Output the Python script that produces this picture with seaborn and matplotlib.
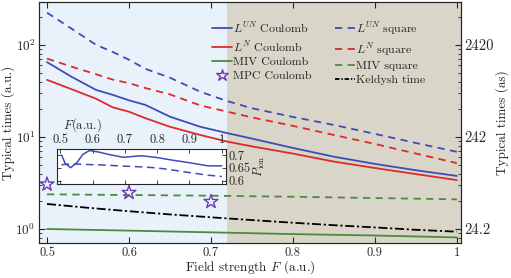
import seaborn as sns
import matplotlib.pyplot as plt
import matplotlib
from matplotlib.ticker import FixedLocator, FixedFormatter, NullFormatter
from matplotlib.lines import Line2D

# field strength grid (a.u.)
F = [0.5, 0.53, 0.56, 0.58, 0.6, 0.62, 0.65, 0.687, 0.72, 0.75, 0.8, 0.85, 0.9, 0.95, 1.0]
# typical times (a.u.)
lun_coulomb = [65, 45, 32.4, 28.7, 25.0, 22.3, 16.6, 12.9, 11.0, 9.6, 7.6, 6.1, 5.1, 4.35, 3.77]
ln_coulomb = [41.7, 33, 26.0, 21.0, 18.8, 16.0, 12.9, 10.5, 8.9, 7.9, 6.6, 5.4, 4.6, 3.95, 3.4]
lun_square = [224, 150, 100, 84, 69, 55, 44, 31, 24.5, 20.5, 16.5, 13.5, 10.8, 8.6, 6.9]
ln_square = [71, 58, 48, 42, 38.4, 34, 29, 22, 18.8, 16.3, 13.2, 10.5, 8.4, 6.6, 5.2]
F2 = [0.5, 0.6, 0.7, 0.8, 0.9, 1.0]
miv_coulomb = [1.0, 0.96, 0.92, 0.88, 0.85, 0.81]
miv_square = [2.38, 2.34, 2.30, 2.24, 2.17, 2.10]
F3 = [0.5, 0.55, 0.6, 0.65, 0.7, 0.75, 0.8, 0.85, 0.9, 0.95, 1.0]
keldysh = [1.87, 1.70, 1.56, 1.44, 1.34, 1.25, 1.17, 1.10, 1.04, 0.98, 0.935]
F_mpc = [0.5, 0.6, 0.7]
mpc_coulomb = [3.06, 2.48, 1.98]

# inset: ionization probability
F_in = [0.504, 0.515, 0.532, 0.55, 0.57, 0.59, 0.62, 0.65, 0.695, 0.752, 0.8, 0.842, 0.9, 0.957, 1.0]
p_coulomb = [0.700, 0.668, 0.651, 0.668, 0.702, 0.717, 0.711, 0.702, 0.691, 0.697, 0.690, 0.681, 0.670, 0.658, 0.658]
p_square = [0.662, 0.664, 0.665, 0.665, 0.664, 0.663, 0.662, 0.660, 0.657, 0.654, 0.650, 0.643, 0.632, 0.622, 0.617]

blue = '#3d4db5'
red = '#dc2b2b'
green = '#4a8c3c'
purple = '#6a3cb4'

sns.set_style('ticks')
matplotlib.rcParams['font.family'] = 'serif'
matplotlib.rcParams['font.serif'] = ['cmr10', 'DejaVu Serif']
matplotlib.rcParams['mathtext.fontset'] = 'cm'
matplotlib.rcParams['axes.unicode_minus'] = False
matplotlib.rcParams['axes.formatter.use_mathtext'] = True
matplotlib.rcParams['font.size'] = 9.5

fig = plt.figure(figsize=(5.11, 2.78), dpi=100)
ax = fig.add_axes([0.076, 0.126, 0.826, 0.867])

ax.axvspan(0.45, 0.72, color='#e9f2fa', lw=0, zorder=0)
ax.axvspan(0.72, 1.05, color='#d9d6c9', lw=0, zorder=0)

dash = (0, (4, 3))
sns.lineplot(x=F, y=lun_coulomb, color=blue, lw=1.3, ax=ax)
sns.lineplot(x=F, y=ln_coulomb, color=red, lw=1.3, ax=ax)
sns.lineplot(x=F2, y=miv_coulomb, color=green, lw=1.3, ax=ax)
sns.lineplot(x=F, y=lun_square, color=blue, lw=1.3, ls=dash, ax=ax)
sns.lineplot(x=F, y=ln_square, color=red, lw=1.3, ls=dash, ax=ax)
sns.lineplot(x=F2, y=miv_square, color=green, lw=1.3, ls=dash, ax=ax)
sns.lineplot(x=F3, y=keldysh, color='black', lw=1.3, ls=(0, (5, 1.5, 1.2, 1.5)), ax=ax)
sns.scatterplot(x=F_mpc, y=mpc_coulomb, marker='*', s=110, facecolor='none',
                edgecolor=purple, linewidth=1.0, ax=ax, zorder=5)

ax.set_yscale('log')
ax.set_xlim(0.49, 1.005)
ax.set_ylim(0.705, 293)
ax.xaxis.set_major_locator(FixedLocator([0.5, 0.6, 0.7, 0.8, 0.9, 1.0]))
ax.xaxis.set_major_formatter(FixedFormatter(['0.5', '0.6', '0.7', '0.8', '0.9', '1']))
ax.tick_params(which='both', direction='in', top=True, right=False, pad=2.5)
ax.tick_params(axis='x', labelsize=9)
ax.tick_params(which='major', length=4, width=0.8)
ax.tick_params(which='minor', length=2, width=0.6)
ax.set_xlabel('Field strength $F$ (a.u.)', labelpad=0)
ax.set_ylabel('Typical times (a.u.)', labelpad=0)

ax2 = ax.twinx()
ax2.set_yscale('log')
ax2.set_ylim(0.705 * 24.2, 293 * 24.2)
ax2.yaxis.set_major_locator(FixedLocator([24.2, 242, 2420]))
ax2.yaxis.set_major_formatter(FixedFormatter(['24.2', '242', '2420']))
ax2.yaxis.set_minor_locator(FixedLocator([24.2 * k * 10 ** n for n in range(-1, 3) for k in range(2, 10)]))
ax2.yaxis.set_minor_formatter(NullFormatter())
ax2.tick_params(which='both', direction='in', pad=2.5, labelsize=10.5)
ax2.tick_params(which='major', length=4, width=0.8)
ax2.tick_params(which='minor', length=2, width=0.6)
ax2.set_ylabel('Typical times (as)', labelpad=1)

handles = [
    Line2D([], [], color=blue, lw=1.3),
    Line2D([], [], color=red, lw=1.3),
    Line2D([], [], color=green, lw=1.3),
    Line2D([], [], ls='none', marker='*', ms=9, mfc='none', mec=purple, mew=1.0),
    Line2D([], [], color=blue, lw=1.3, ls=dash),
    Line2D([], [], color=red, lw=1.3, ls=dash),
    Line2D([], [], color=green, lw=1.3, ls=dash),
    Line2D([], [], color='black', lw=1.3, ls=(0, (2.5, 1, 0.8, 1))),
]
labels = ['$L^{UN}$ Coulomb', '$L^{N}$ Coulomb', 'MIV Coulomb', 'MPC Coulomb',
          '$L^{UN}$ square', '$L^{N}$ square', 'MIV square', 'Keldysh time']
ax2.legend(handles, labels, ncol=2, loc='upper left', bbox_to_anchor=(0.41, 0.925),
           frameon=False, fontsize=8.6, handlelength=1.7, handletextpad=0.1,
           labelspacing=0.3, columnspacing=1.9, borderpad=0, borderaxespad=0)

ins = fig.add_axes([57 / 511, 1 - 184 / 278, 169 / 511, 35 / 278], zorder=10)
ins.set_facecolor('white')
sns.lineplot(x=F_in, y=p_coulomb, color=blue, lw=1.1, ax=ins)
sns.lineplot(x=F_in, y=p_square, color=blue, lw=1.1, ls=(0, (5, 3)), ax=ins)
ins.set_xlim(0.49, 1.013)
ins.set_ylim(0.588, 0.723)
ins.xaxis.set_major_locator(FixedLocator([0.5, 0.6, 0.7, 0.8, 0.9, 1.0]))
ins.xaxis.set_major_formatter(FixedFormatter(['0.5', '0.6', '0.7', '0.8', '0.9', '1']))
ins.yaxis.set_major_locator(FixedLocator([0.6, 0.65, 0.7]))
ins.yaxis.set_major_formatter(FixedFormatter(['0.6', '0.65', '0.7']))
ins.xaxis.tick_top()
ins.yaxis.tick_right()
ins.tick_params(which='both', direction='in', top=True, bottom=True, left=True, right=True,
                labelsize=9, length=3, width=0.6, pad=2)
ins.yaxis.set_label_position('right')
ins.set_ylabel(r'$P_{\rm ion}$', fontsize=9, labelpad=1)
ins.set_xlabel('')
ins.text(0.035, 1.42, '$F$(a.u.)', transform=ins.transAxes, ha='left', va='bottom', fontsize=9)

fig.savefig('out.png', dpi=100)
